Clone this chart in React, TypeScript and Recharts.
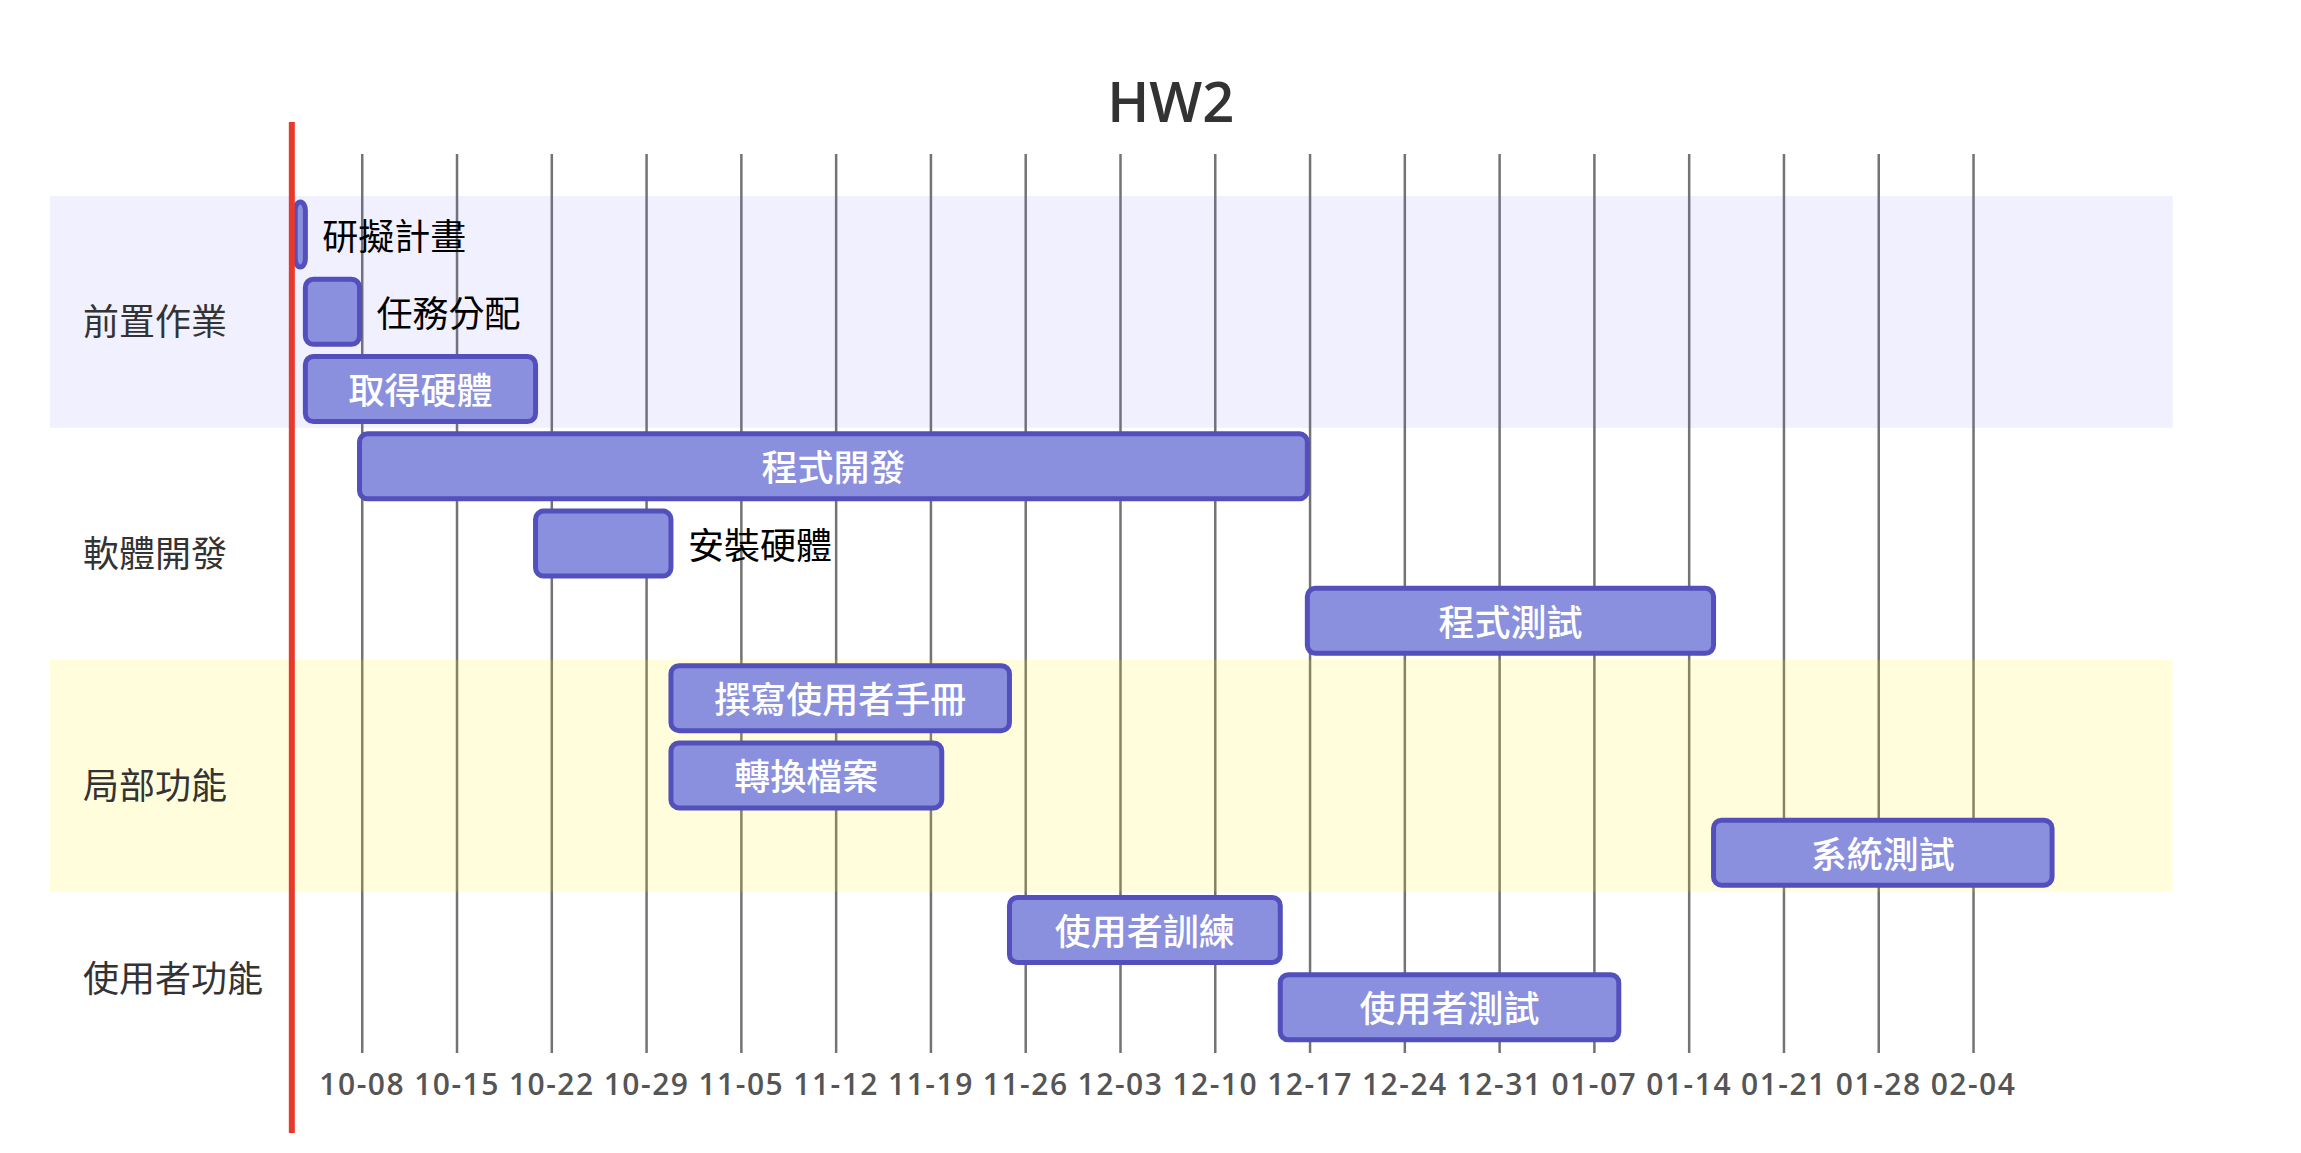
import React from 'react';
import { BarChart, Bar, XAxis, YAxis, CartesianGrid, ReferenceArea, ReferenceLine } from 'recharts';

// Gantt rows (days counted from 10-03)
const TASKS = [
  '研擬計畫',
  '任務分配',
  '取得硬體',
  '程式開發',
  '安裝硬體',
  '程式測試',
  '撰寫使用者手冊',
  '轉換檔案',
  '系統測試',
  '使用者訓練',
  '使用者測試',
];
const START_DAYS = [0.25, 1, 1, 5, 18, 75, 28, 28, 105, 53, 73];
const END_DAYS = [1, 5, 18, 75, 28, 105, 53, 48, 130, 73, 98];

const SECTIONS = ['前置作業', '軟體開發', '局部功能', '使用者功能'];
const SECTION_FIRST = [0, 3, 6, 9];
const SECTION_LAST = [2, 5, 8, 10];

const TICK_LABELS = [
  '10-08', '10-15', '10-22', '10-29', '11-05', '11-12', '11-19', '11-26', '12-03',
  '12-10', '12-17', '12-24', '12-31', '01-07', '01-14', '01-21', '01-28', '02-04',
];
const TICK_DAYS = [
  5.2, 12.2, 19.2, 26.2, 33.2, 40.2, 47.2, 54.2, 61.2,
  68.2, 75.2, 82.2, 89.2, 96.2, 103.2, 110.2, 117.2, 124.2,
];
const TODAY_DAY = 0;
const X_DOMAIN = [-17.86, 138.91];

const SECTION_FILL = ['#6666ff', '#ffffff', '#fff400', '#ffffff'];
const SECTION_OPACITY = [0.098, 0, 0.14, 0];

const CJK = '"Noto Sans CJK TC", "Noto Sans CJK SC", sans-serif';
const LATIN = '"Open Sans", "Noto Sans", sans-serif';
const TASK_FONT = 36;

const rows = TASKS.map((name, i) => ({ name, span: [START_DAYS[i], END_DAYS[i]] }));

const TaskBar = (props: any) => {
  const { x, y, width, height, payload } = props;
  if (x == null || y == null) return null;
  const textW = payload.name.length * TASK_FONT;
  const inside = textW < width;
  return (
    <g>
      <rect x={x} y={y} width={width} height={height} rx={8} ry={8}
        fill="#8a90dd" stroke="#534fbc" strokeWidth={5} />
      <text
        x={inside ? x + width / 2 : x + width + 17}
        y={y + height / 2 - 1}
        textAnchor={inside ? 'middle' : 'start'}
        dominantBaseline="central"
        fill={inside ? '#ffffff' : '#000000'}
        fontSize={TASK_FONT}
        fontWeight={inside ? 500 : 400}
        fontFamily={CJK}
      >
        {payload.name}
      </text>
    </g>
  );
};

const TodayLine = (props: any) => {
  const { x1, y1, y2 } = props;
  if (x1 == null) return null;
  const top = Math.min(y1, y2);
  const bottom = Math.max(y1, y2);
  return <line x1={x1} x2={x1} y1={top - 32} y2={bottom + 80} stroke="#e8392c" strokeWidth={6} />;
};

const sectionLabel = (text: string) => (p: any) => {
  const vb = p.viewBox;
  if (!vb) return null;
  return (
    <text x={vb.x + 33} y={vb.y + vb.height / 2 + 7} dominantBaseline="central"
      fill="#333333" fontSize={36} fontFamily={CJK}>
      {text}
    </text>
  );
};

// grid lines only at the weekly ticks (no lines on the plot edges)
const gridAtTicks = (args: any) => {
  const xAxis = args.xAxis || {};
  const scale = xAxis.scale;
  if (typeof scale === 'function') return TICK_DAYS.map((d) => scale(d));
  if (scale && typeof scale.map === 'function') return TICK_DAYS.map((d) => scale.map(d));
  const off = args.offset;
  return TICK_DAYS.map(
    (d) => off.left + ((d - X_DOMAIN[0]) / (X_DOMAIN[1] - X_DOMAIN[0])) * off.width,
  );
};

export default function App() {
  return (
    <BarChart
      width={2280}
      height={1130}
      data={rows}
      layout="vertical"
      margin={{ top: 146, right: 115.3, left: 42, bottom: 0 }}
      barSize={65}
    >
      <text x={1162.7} y={113.7} textAnchor="middle" fill="#333333" fontSize={56}
        fontWeight={600} fontFamily={LATIN}>
        HW2
      </text>
      <CartesianGrid
        horizontal={false}
        stroke="#737373"
        strokeWidth={2.5}
        verticalCoordinatesGenerator={gridAtTicks}
      />
      <XAxis
        type="number"
        domain={X_DOMAIN}
        allowDataOverflow
        ticks={TICK_DAYS}
        interval={0}
        tickFormatter={(v: number) => TICK_LABELS[TICK_DAYS.indexOf(v)]}
        tickLine={false}
        axisLine={false}
        height={85}
        tickMargin={15}
        tick={{ fill: '#555555', fontSize: 30, fontWeight: 600, letterSpacing: 1.5, fontFamily: LATIN }}
      />
      <YAxis type="category" dataKey="name" hide padding={{ top: 42, bottom: 7 }} />
      {SECTIONS.map((s, i) => (
        <ReferenceArea
          key={s}
          y1={TASKS[SECTION_FIRST[i]]}
          y2={TASKS[SECTION_LAST[i]]}
          fill={SECTION_FILL[i]}
          fillOpacity={SECTION_OPACITY[i]}
          stroke="none"
          label={sectionLabel(s)}
        />
      ))}
      <Bar dataKey="span" shape={TaskBar} isAnimationActive={false} />
      <ReferenceLine x={TODAY_DAY} shape={TodayLine} />
    </BarChart>
  );
}
